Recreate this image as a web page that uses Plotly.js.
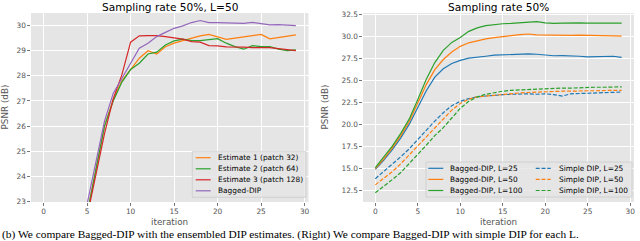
<!DOCTYPE html>
<html>
<head>
<meta charset="utf-8">
<script src="https://cdn.plot.ly/plotly-3.0.1.min.js"></script>
<style>html,body{margin:0;padding:0;background:#fff;}#chart{width:640px;height:241px;}</style>
</head>
<body>
<div id="chart"></div>
<script>
// ---------- data ----------
var leftIter = [5,6,7,8,9,10,11,12,13,14,15,16,17,18,19,20,21,22,23,24,25,26,27,28,29];
var est1 = [22.5,24.2,26.0,27.05,27.8,28.25,28.7,29.0,28.87,29.16,29.3,29.4,29.5,29.59,29.65,29.56,29.45,29.5,29.56,29.59,29.65,29.47,29.52,29.59,29.63];
var est2 = [22.5,24.2,26.0,27.0,27.75,28.25,28.5,28.87,28.94,29.23,29.39,29.46,29.4,29.4,29.43,29.48,29.3,29.16,29.06,29.2,29.16,29.16,29.06,29.0,29.03];
var est3 = [22.4,24.0,25.7,27.08,28.05,29.34,29.59,29.6,29.6,29.56,29.5,29.46,29.36,29.34,29.2,29.19,29.15,29.16,29.14,29.12,29.12,29.12,29.08,29.04,29.0];
var baggedL50 = [22.9,24.6,26.2,27.3,27.89,28.47,29.1,29.3,29.56,29.73,29.89,29.99,30.12,30.2,30.12,30.12,30.12,30.1,30.09,30.13,30.07,30.03,30.04,30.03,30.0];
var leftNames = ["Estimate 1 (patch 32)","Estimate 2 (patch 64)","Estimate 3 (patch 128)","Bagged-DIP"];

var rightIter = [0,1,2,3,4,5,6,7,8,9,10,11,12,13,14,15,16,17,18,19,20,21,22,23,24,25,26,27,28,29];
var bag25  = [14.85,15.9,17.1,18.45,20.0,21.9,23.8,25.35,26.3,26.9,27.25,27.5,27.65,27.72,27.84,27.9,27.95,28.0,28.0,27.95,27.85,27.78,27.8,27.72,27.72,27.65,27.65,27.68,27.72,27.6];
var bag50  = [14.95,16.05,17.3,18.7,20.3,22.4,24.5,26.2,27.35,28.2,28.85,29.25,29.5,29.7,29.85,30.0,30.07,30.17,30.25,30.15,30.12,30.1,30.1,30.1,30.12,30.08,30.05,30.02,30.03,30.02];
var bag100 = [15.05,16.25,17.5,18.95,20.6,22.8,25.1,27.0,28.4,29.3,29.85,30.55,30.95,31.2,31.35,31.42,31.45,31.5,31.52,31.65,31.52,31.45,31.5,31.55,31.52,31.5,31.48,31.45,31.48,31.48];
var simple25  = [13.8,14.6,15.4,16.3,17.2,18.2,19.3,20.35,21.3,22.1,22.6,22.9,23.1,23.2,23.3,23.35,23.4,23.45,23.45,23.4,23.45,23.35,23.2,23.45,23.5,23.55,23.6,23.6,23.62,23.65];
var simple50  = [13.1,13.8,14.6,15.5,16.5,17.5,18.6,19.6,20.6,21.6,22.35,22.85,23.1,23.2,23.3,23.4,23.5,23.55,23.6,23.65,23.7,23.7,23.75,23.75,23.8,23.8,23.8,23.85,23.85,23.85];
var simple100 = [12.2,12.9,13.7,14.5,15.5,16.5,17.6,18.7,19.6,20.7,21.8,22.6,23.1,23.4,23.6,23.75,23.85,23.9,23.95,24.0,24.05,24.05,24.1,24.1,24.15,24.15,24.2,24.2,24.2,24.25];
var rightNamesBagged = ["Bagged-DIP, L=25","Bagged-DIP, L=50","Bagged-DIP, L=100"];
var rightNamesSimple = ["Simple DIP, L=25","Simple DIP, L=50","Simple DIP, L=100"];

var xTicks = [0,5,10,15,20,25,30];
var leftYTicks = [23,24,25,26,27,28,29,30];
var rightYTicks = [12.5,15.0,17.5,20.0,22.5,25.0,27.5,30.0,32.5];

var titleLeft = "Sampling rate 50%, L=50";
var titleRight = "Sampling rate 50%";
var xLabel = "iteration";
var yLabel = "PSNR (dB)";
var caption = "(b) We compare Bagged-DIP with the ensembled DIP estimates. (Right) We compare Bagged-DIP with simple DIP for each L.";

// ---------- style ----------
var C = {blue:"#1f77b4", orange:"#ff7f0e", green:"#2ca02c", red:"#d62728", purple:"#9467bd"};
var W = 640, H = 241;
function px(x){ return x / W; }
function py(y){ return 1 - y / H; }
var FONT = "DejaVu Sans, sans-serif";
var LW = 1.2;

var leftColors = [C.orange, C.green, C.red, C.purple];
var leftSeries = [est1, est2, est3, baggedL50];
var rightColors = [C.blue, C.orange, C.green];
var bagSeries = [bag25, bag50, bag100];
var simSeries = [simple25, simple50, simple100];
var DASH = "4px,1.8px";

var traces = [];
leftSeries.forEach(function(s, i){
  traces.push({x: leftIter, y: s, type: "scatter", mode: "lines", name: leftNames[i],
    line: {color: leftColors[i], width: LW}, xaxis: "x", yaxis: "y", showlegend: false, hoverinfo: "skip"});
});
bagSeries.forEach(function(s, i){
  traces.push({x: rightIter, y: s, type: "scatter", mode: "lines", name: rightNamesBagged[i],
    line: {color: rightColors[i], width: LW}, xaxis: "x2", yaxis: "y2", showlegend: false, hoverinfo: "skip"});
});
simSeries.forEach(function(s, i){
  traces.push({x: rightIter, y: s, type: "scatter", mode: "lines", name: rightNamesSimple[i],
    line: {color: rightColors[i], width: LW, dash: DASH}, xaxis: "x2", yaxis: "y2", showlegend: false, hoverinfo: "skip"});
});

var axisCommon = {
  showgrid: true, gridcolor: "#ffffff", gridwidth: 1, zeroline: false, showline: false,
  ticks: "outside", ticklen: 2.6, tickwidth: 0.8, tickcolor: "#555555",
  tickfont: {family: FONT, size: 7.4, color: "#555555"}
};
function ax(extra){ var o = JSON.parse(JSON.stringify(axisCommon)); for (var k in extra) o[k] = extra[k]; return o; }

var yDom = [py(202), py(13)];
var layout = {
  width: W, height: H,
  margin: {l: 0, r: 0, t: 0, b: 0, pad: 0},
  paper_bgcolor: "#ffffff", plot_bgcolor: "#e5e5e5",
  showlegend: false,
  xaxis: ax({domain: [px(31), px(308.5)], range: [-1.45, 30.45], tickmode: "array", tickvals: xTicks, ticktext: xTicks.map(String), anchor: "y"}),
  yaxis: ax({domain: yDom, range: [22.98, 30.5], tickmode: "array", tickvals: leftYTicks, ticktext: leftYTicks.map(String), anchor: "x"}),
  xaxis2: ax({domain: [px(363), px(634)], range: [-1.45, 30.45], tickmode: "array", tickvals: xTicks, ticktext: xTicks.map(String), anchor: "y2"}),
  yaxis2: ax({domain: yDom, range: [11.15, 32.64], tickmode: "array", tickvals: rightYTicks, ticktext: rightYTicks.map(function(v){return v.toFixed(1);}), anchor: "x2"}),
  shapes: [], annotations: []
};

function addText(text, x, y, opts){
  var a = {text: text, xref: "paper", yref: "paper", x: px(x), y: py(y), showarrow: false,
    xanchor: opts.xanchor || "center", yanchor: opts.yanchor || "middle", borderpad: 0,
    font: {family: opts.family || FONT, size: opts.size, color: opts.color || "#000"}};
  if (opts.textangle !== undefined) a.textangle = opts.textangle;
  layout.annotations.push(a);
}

// titles and axis labels
addText(titleLeft, 170, 6.5, {size: 10.6});
addText(titleRight, 498.5, 6.5, {size: 10.6});
addText(xLabel, 169.5, 221.5, {size: 8.8, color: "#555555"});
addText(xLabel, 498.5, 221.5, {size: 8.8, color: "#555555"});
addText(yLabel, 5, 107.5, {size: 8.8, color: "#555555", textangle: -90});
addText(yLabel, 325, 107.5, {size: 8.8, color: "#555555", textangle: -90});

// legend frames
function frame(x0, y0, x1, y1){
  layout.shapes.push({type: "rect", xref: "paper", yref: "paper", x0: px(x0), x1: px(x1), y0: py(y1), y1: py(y0),
    fillcolor: "rgba(229,229,229,0.8)", line: {color: "#cccccc", width: 0.8}, layer: "above"});
}
function handle(x0, x1, y, color, dash){
  layout.shapes.push({type: "line", xref: "paper", yref: "paper", x0: px(x0), x1: px(x1), y0: py(y), y1: py(y),
    line: {color: color, width: LW, dash: dash || "solid"}, layer: "above"});
}
frame(192.3, 151.7, 306, 197.3);
var leftRows = [157.7, 168.8, 179.8, 190.8];
leftNames.forEach(function(n, i){
  handle(195.7, 210.7, leftRows[i], leftColors[i]);
  addText(n, 216.7, leftRows[i], {size: 7.4, xanchor: "left"});
});
frame(426, 162, 632, 197);
var rightRows = [168.3, 179.4, 190.5];
rightNamesBagged.forEach(function(n, i){
  handle(428.3, 443.3, rightRows[i], rightColors[i]);
  addText(n, 449.3, rightRows[i], {size: 7.4, xanchor: "left"});
});
rightNamesSimple.forEach(function(n, i){
  handle(535.7, 550.7, rightRows[i], rightColors[i], DASH);
  addText(n, 558.3, rightRows[i], {size: 7.4, xanchor: "left"});
});

// caption line below the panels
addText(caption, 1, 234.5, {size: 11.4, family: "Liberation Serif, serif", xanchor: "left"});

Plotly.newPlot("chart", traces, layout, {staticPlot: true, displayModeBar: false});
</script>
</body>
</html>
